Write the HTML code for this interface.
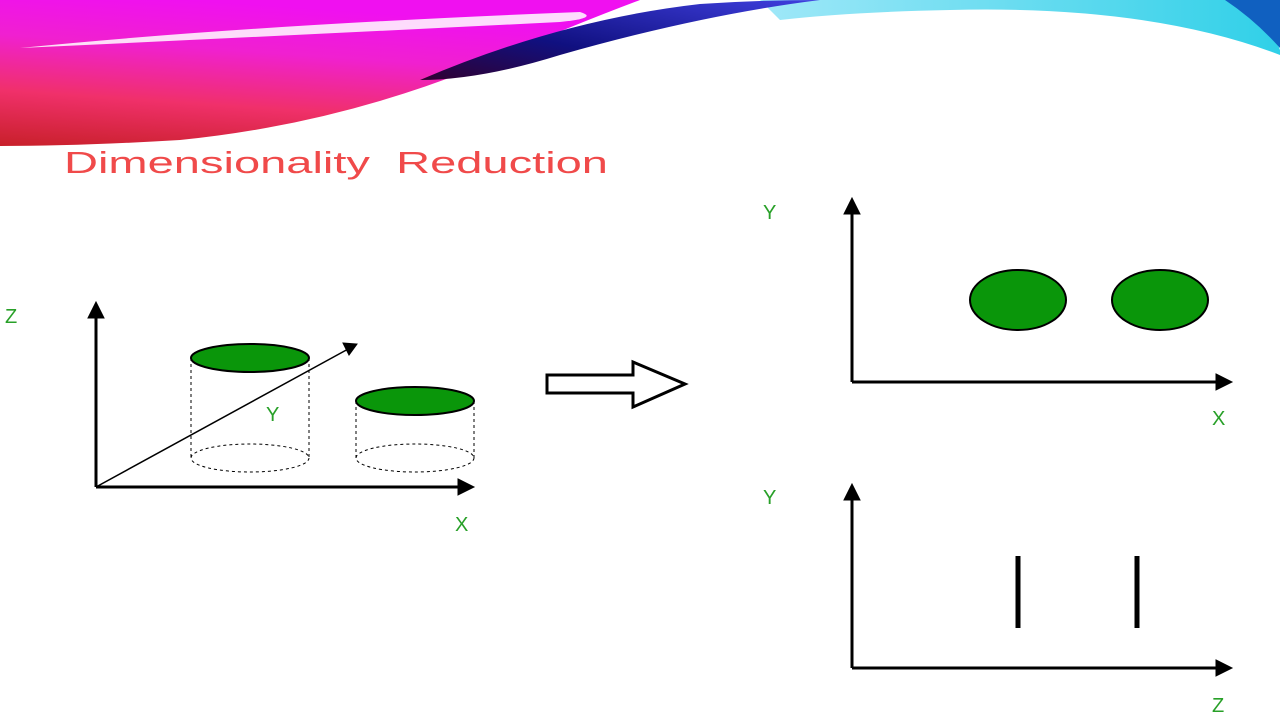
<!DOCTYPE html>
<html><head><meta charset="utf-8"><style>
body{margin:0;width:1280px;height:720px;background:#fff;overflow:hidden;font-family:"Liberation Sans",sans-serif}
svg{position:absolute;left:0;top:0}
</style></head><body>
<svg width="1280" height="720">
<defs>
<linearGradient id="pg" x1="0" y1="1" x2="0.3" y2="0">
<stop offset="0" stop-color="#c8202a"/><stop offset="0.35" stop-color="#f0306a"/><stop offset="0.7" stop-color="#f020d0"/><stop offset="1" stop-color="#f010f0"/></linearGradient>
<linearGradient id="bg" x1="0" y1="1" x2="1" y2="0">
<stop offset="0" stop-color="#300030"/><stop offset="0.4" stop-color="#101080"/><stop offset="1" stop-color="#4040e0"/></linearGradient>
<linearGradient id="cg" x1="0" y1="0" x2="1" y2="0">
<stop offset="0" stop-color="#a0e8f8"/><stop offset="1" stop-color="#30d0e8"/></linearGradient>
</defs>
<g>
<path d="M760,0 L1240,0 Q1270,20 1280,50 L1280,55 Q1150,5 950,10 Q850,12 780,20 Z" fill="url(#cg)"/>
<path d="M1225,0 L1280,0 L1280,48 Q1255,20 1225,0Z" fill="#1060c0"/>
<path d="M0,0 L640,0 Q560,30 470,70 Q330,125 180,140 Q80,146 0,146 Z" fill="url(#pg)"/>
<path d="M20,48 Q250,25 580,12 Q600,18 560,22 Q300,35 20,48Z" fill="#fff" opacity="0.85"/>
<path d="M420,80 Q560,20 700,4 Q760,0 820,0 Q700,15 560,55 Q480,80 420,80Z" fill="url(#bg)"/>
</g>
<text x="64" y="173" font-size="31" fill="#f04a4a" textLength="544" lengthAdjust="spacingAndGlyphs" xml:space="preserve">Dimensionality  Reduction</text>

<g stroke="#000" fill="none">
<line x1="96" y1="487" x2="96" y2="310" stroke-width="3"/>
<path d="M88,318 L96,302 L104,318Z" fill="#000"/>
<line x1="96" y1="487" x2="462" y2="487" stroke-width="3"/>
<path d="M458,479 L474,487 L458,495Z" fill="#000"/>
<line x1="96" y1="487" x2="350" y2="348" stroke-width="1.5"/>
<path d="M343,343 L357,344 L349,355Z" fill="#000"/>
<g stroke-dasharray="3,3" stroke-width="1">
<line x1="191" y1="358" x2="191" y2="458"/><line x1="309" y1="358" x2="309" y2="458"/>
<ellipse cx="250" cy="458" rx="59" ry="14"/>
<line x1="356" y1="401" x2="356" y2="458"/><line x1="474" y1="401" x2="474" y2="458"/>
<ellipse cx="415" cy="458" rx="59" ry="14"/>
</g>
<ellipse cx="250" cy="358" rx="59" ry="14" fill="#0a960a" stroke-width="2"/>
<ellipse cx="415" cy="401" rx="59" ry="14" fill="#0a960a" stroke-width="2"/>
</g>
<g font-size="20" fill="#28a028">
<text x="5" y="323">Z</text><text x="266" y="421">Y</text><text x="455" y="531">X</text>
<text x="763" y="219">Y</text><text x="1212" y="425">X</text>
<text x="763" y="504">Y</text><text x="1212" y="712">Z</text>
</g>
<g>
<path d="M547,375 L633,375 L633,362 L685,384 L633,407 L633,393 L547,393Z" fill="#fff" stroke="#000" stroke-width="3"/>
</g>
<g stroke="#000">
<line x1="852" y1="382" x2="852" y2="208" stroke-width="3"/>
<path d="M844,214 L852,198 L860,214Z" fill="#000"/>
<line x1="852" y1="382" x2="1220" y2="382" stroke-width="3"/>
<path d="M1216,374 L1232,382 L1216,390Z" fill="#000"/>
<ellipse cx="1018" cy="300" rx="48" ry="30" fill="#0a960a" stroke-width="2"/>
<ellipse cx="1160" cy="300" rx="48" ry="30" fill="#0a960a" stroke-width="2"/>
</g>
<g stroke="#000">
<line x1="852" y1="668" x2="852" y2="494" stroke-width="3"/>
<path d="M844,500 L852,484 L860,500Z" fill="#000"/>
<line x1="852" y1="668" x2="1220" y2="668" stroke-width="3"/>
<path d="M1216,660 L1232,668 L1216,676Z" fill="#000"/>
<line x1="1018" y1="556" x2="1018" y2="628" stroke-width="5"/>
<line x1="1137" y1="556" x2="1137" y2="628" stroke-width="5"/>
</g>
</svg>
</body></html>
